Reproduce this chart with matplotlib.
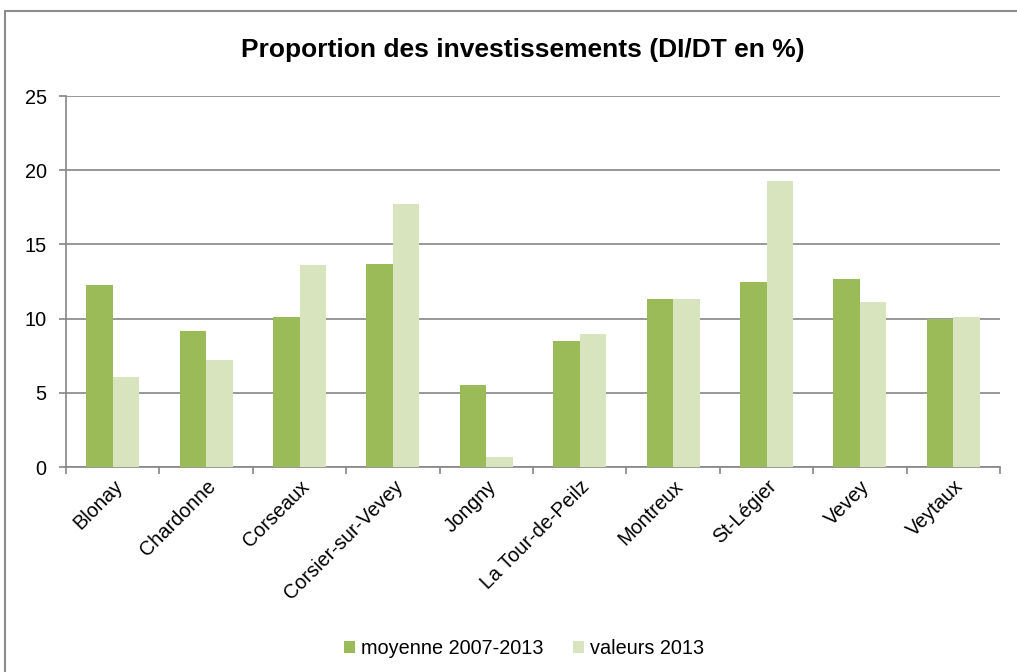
import numpy as np
import matplotlib
matplotlib.use("Agg")
import matplotlib.pyplot as plt
from matplotlib.patches import Rectangle

plt.rcParams['font.family'] = ['Liberation Sans', 'DejaVu Sans']

# Daten
communes = ["Blonay", "Chardonne", "Corseaux", "Corsier-sur-Vevey", "Jongny",
            "La Tour-de-Peilz", "Montreux", "St-Légier", "Vevey", "Veytaux"]
moyenne = [12.3, 9.2, 10.1, 13.7, 5.5, 8.5, 11.3, 12.5, 12.7, 10.0]
valeurs_2013 = [6.1, 7.2, 13.6, 17.7, 0.7, 9.0, 11.3, 19.3, 11.1, 10.1]

c_dark = "#9BBB59"
c_light = "#D7E4BD"
c_grid = "#868686"

fig = plt.figure(figsize=(10.17, 6.72), dpi=100)
ax = fig.add_axes([0.0649, 0.305, 0.9184, 0.552])

# Rahmen um das Diagramm
fig.patches.append(Rectangle((5 / 1017, -0.2), 1.2, 1.2 - 11 / 672,
                             transform=fig.transFigure, fill=False,
                             edgecolor="#8c8c8c", linewidth=1.5))

x = np.arange(len(communes))
w = 0.284
ax.bar(x - w / 2, moyenne, w, color=c_dark, label="moyenne 2007-2013", zorder=3)
ax.bar(x + w / 2, valeurs_2013, w, color=c_light, label="valeurs 2013", zorder=3)

ax.set_xlim(-0.5, len(communes) - 0.5)
ax.set_ylim(0, 25)
ax.set_yticks(range(0, 26, 5))
ax.yaxis.grid(True, color=c_grid, linewidth=1.2, zorder=0)

ax.set_xticks(x)
ax.set_xticklabels(communes, rotation=45, ha="right", rotation_mode="anchor", fontsize=14.3)
ax.tick_params(axis="x", length=0, pad=7)
ax.set_xticks(np.arange(-0.5, len(communes)), minor=True)
ax.tick_params(axis="x", which="minor", length=5, color=c_grid, width=1.2)
ax.tick_params(axis="y", length=5, color=c_grid, width=1.2, labelsize=14.3, pad=9)

for s in ["top", "right"]:
    ax.spines[s].set_visible(False)
for s in ["left", "bottom"]:
    ax.spines[s].set_color(c_grid)
    ax.spines[s].set_linewidth(1.2)

fig.text(0.5137, 0.925, "Proportion des investissements (DI/DT en %)",
         ha="center", va="center", fontsize=19, fontweight="bold")

fig.legend(loc="center", bbox_to_anchor=(0.515, 0.035), ncol=2, frameon=False,
           fontsize=14.3, handlelength=0.55, handleheight=0.55, handletextpad=0.3,
           columnspacing=1.5)

fig.savefig("out.png", dpi=100)
